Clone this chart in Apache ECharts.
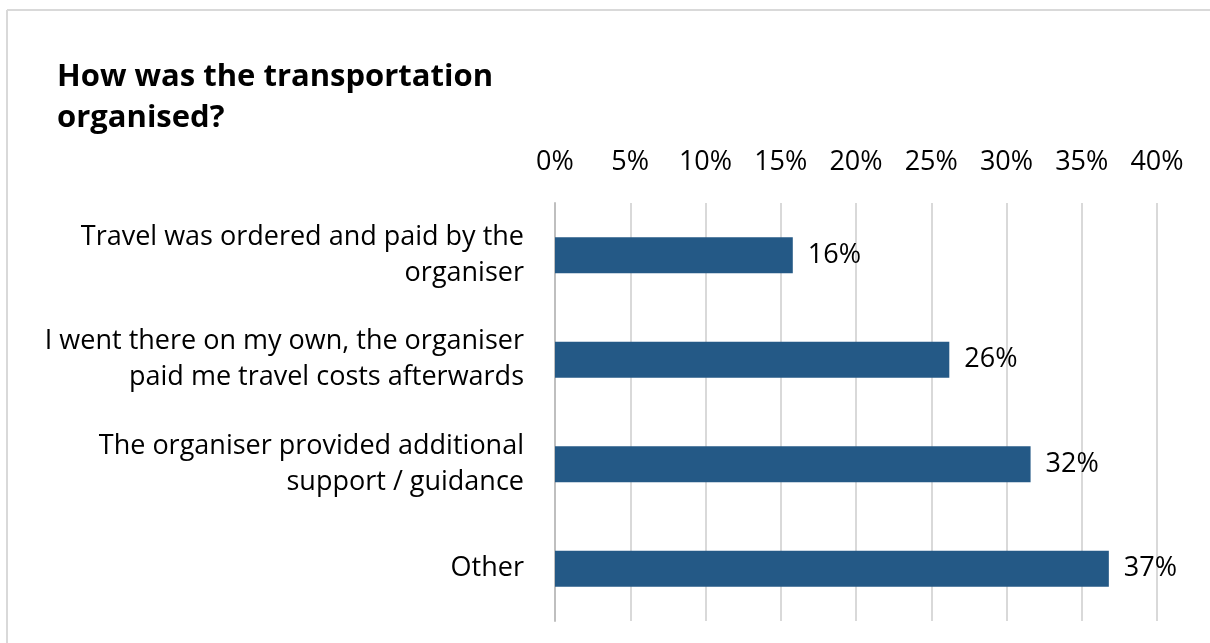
<!DOCTYPE html>
<html>
<head>
<meta charset="utf-8">
<script src="https://cdn.jsdelivr.net/npm/echarts@6/dist/echarts.min.js"></script>
<style>
  html, body { margin: 0; padding: 0; background: #fff; }
  #chart { width: 1210px; height: 643px; }
</style>
</head>
<body>
<div id="chart"></div>
<script>
// survey answers, top to bottom
const categories = [
  'Travel was ordered and paid by the\norganiser',
  'I went there on my own, the organiser\npaid me travel costs afterwards',
  'The organiser provided additional\nsupport / guidance',
  'Other'
];
const shares = [15.8, 26.2, 31.6, 36.8]; // percent
const tickLabels = ['0%', '5%', '10%', '15%', '20%', '25%', '30%', '35%', '40%'];

const font = '"Open Sans", Lato, sans-serif';

const chart = echarts.init(document.getElementById('chart'));

chart.setOption({
  animation: false,
  backgroundColor: '#fff',
  title: {
    text: 'How was the transportation\norganised?',
    left: 52,
    top: 52,
    textStyle: {
      fontFamily: font,
      fontSize: 31,
      fontWeight: 'bold',
      color: '#000',
      lineHeight: 41
    }
  },
  graphic: [
    // frame of the original chart (only top + left edge visible)
    { type: 'line', shape: { x1: 7, y1: 10, x2: 1210, y2: 10 }, style: { stroke: '#d9d9d9', lineWidth: 2 } },
    { type: 'line', shape: { x1: 7, y1: 10, x2: 7, y2: 643 }, style: { stroke: '#d9d9d9', lineWidth: 2 } }
  ],
  grid: { left: 555, right: 53, top: 203, height: 418 },
  xAxis: {
    type: 'value',
    position: 'top',
    min: 0,
    max: 40,
    interval: 5,
    axisLine: { show: false },
    axisTick: { show: false },
    axisLabel: {
      margin: 27,
      fontFamily: font,
      fontSize: 27,
      color: '#000',
      formatter: (v) => tickLabels[Math.round(v / 5)]
    },
    splitLine: { lineStyle: { color: '#d9d9d9', width: 2 } }
  },
  yAxis: {
    type: 'category',
    inverse: true,
    data: categories,
    axisLine: { show: true, lineStyle: { color: '#bfbfbf', width: 2 } },
    axisTick: { show: false },
    axisLabel: {
      margin: 31,
      align: 'right',
      fontFamily: font,
      fontSize: 27,
      lineHeight: 36,
      color: '#000'
    }
  },
  series: [{
    type: 'bar',
    data: shares,
    barWidth: 36,
    itemStyle: { color: '#245986' },
    label: {
      show: true,
      position: 'right',
      distance: 15,
      fontFamily: font,
      fontSize: 27,
      color: '#000',
      formatter: (p) => Math.round(p.value) + '%'
    }
  }]
});
</script>
</body>
</html>
